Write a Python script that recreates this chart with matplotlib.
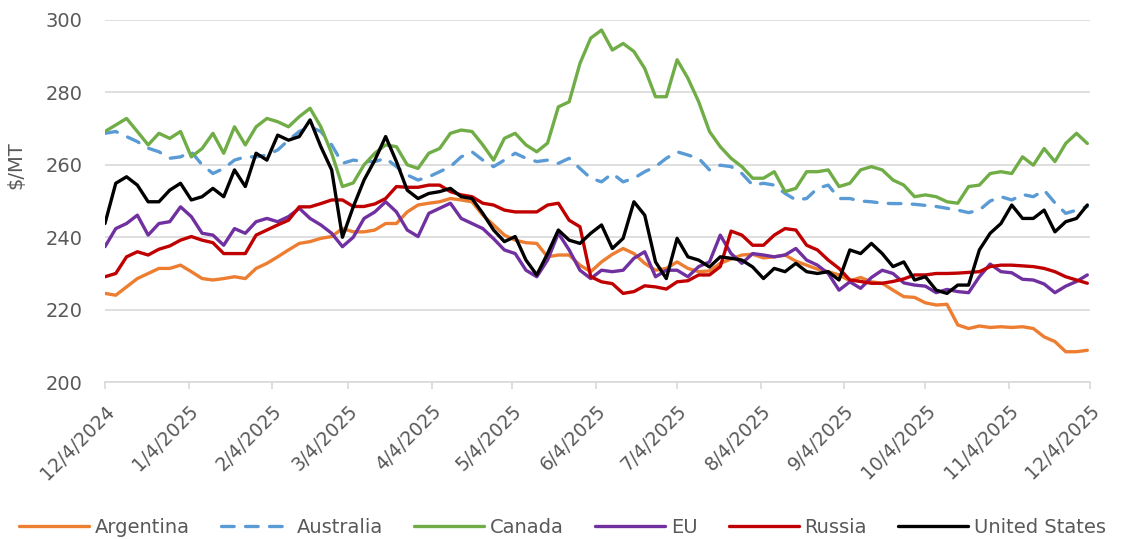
import numpy as np
import pandas as pd
import matplotlib
matplotlib.use("Agg")
import matplotlib.pyplot as plt

# sampled every 4 days starting 12/4/2024
start = pd.Timestamp("2024-12-04")
day_offsets = np.arange(0, 365, 4)

argentina = [
    224.5, 224.0, 226.3, 228.6, 230.0, 231.4, 231.4, 232.3, 230.5, 228.6, 228.2, 228.6,
    229.1, 228.6, 231.4, 232.8, 234.6, 236.5, 238.3, 238.8, 239.7, 240.2, 242.4,
    241.5, 241.5, 242.0, 243.8, 243.8, 247.0, 248.9, 249.4, 249.8, 250.7, 250.3, 249.8,
    246.1, 243.4, 240.6, 239.2, 238.5, 238.3, 234.6, 235.1, 235.1, 232.3, 230.5,
    233.2, 235.3, 236.9, 235.5, 232.8, 230.9, 231.4, 233.2, 231.4, 230.5, 230.7, 232.8,
    234.0, 235.1, 235.3, 234.3, 234.6, 235.1, 233.4, 232.3, 231.2, 230.5, 229.6,
    228.0, 228.9, 227.7, 227.3, 225.4, 223.6, 223.4, 221.9, 221.3, 221.5, 215.8, 214.8,
    215.5, 215.1, 215.3, 215.1, 215.3, 214.8, 212.5, 211.2, 208.4, 208.4, 208.8,
]
australia = [
    268.7, 269.2, 267.8, 266.4, 264.6, 263.6, 261.8, 262.2, 263.6, 260.0, 257.6, 259.0,
    261.3, 262.2, 262.2, 262.7, 264.1, 266.8, 269.2, 270.5, 269.2, 265.5, 260.4,
    261.3, 260.9, 260.9, 261.8, 259.5, 257.2, 255.8, 256.7, 258.1, 259.5, 262.2, 263.6,
    261.3, 259.5, 261.3, 263.2, 261.8, 260.9, 261.3, 260.4, 261.8, 259.0, 256.3,
    255.3, 257.6, 255.3, 256.3, 258.1, 259.5, 261.8, 263.6, 262.7, 261.8, 258.6, 259.9,
    259.5, 257.6, 254.4, 254.9, 254.4, 252.1, 250.3, 250.7, 253.5, 254.4, 250.7,
    250.7, 250.0, 249.8, 249.4, 249.3, 249.3, 249.1, 248.8, 248.5, 248.0, 247.5, 246.8,
    247.5, 250.0, 251.2, 250.3, 251.8, 251.2, 253.0, 249.5, 246.6, 247.5, 248.5,
]
canada = [
    269.2, 271.0, 272.8, 269.2, 265.5, 268.7, 267.3, 269.2, 262.2, 264.5, 268.7, 263.2,
    270.5, 265.5, 270.5, 272.8, 271.9, 270.5, 273.3, 275.6, 270.5, 263.2, 254.0,
    255.0, 260.0, 263.2, 265.5, 265.0, 260.0, 259.0, 263.2, 264.5, 268.7, 269.6, 269.2,
    265.5, 261.3, 267.3, 268.7, 265.5, 263.6, 266.0, 276.0, 277.4, 288.0, 295.0,
    297.2, 291.7, 293.5, 291.3, 286.6, 278.8, 278.8, 289.0, 283.9, 277.4, 269.2, 265.0,
    261.8, 259.5, 256.3, 256.3, 258.1, 252.6, 253.5, 258.1, 258.1, 258.6, 254.0,
    254.9, 258.6, 259.5, 258.6, 255.8, 254.4, 251.2, 251.7, 251.2, 249.8, 249.4, 254.0,
    254.4, 257.6, 258.1, 257.6, 262.2, 259.9, 264.5, 260.9, 265.9, 268.7, 265.9,
]
eu = [
    237.4, 242.4, 243.8, 246.1, 240.6, 243.8, 244.3, 248.4, 245.7, 241.1, 240.6, 237.8,
    242.4, 241.1, 244.3, 245.2, 244.3, 245.7, 248.0, 245.2, 243.4, 241.1, 237.4,
    240.0, 245.2, 247.0, 249.8, 247.0, 242.0, 240.2, 246.6, 248.0, 249.4, 245.2, 243.8,
    242.4, 239.6, 236.5, 235.5, 230.9, 229.1, 233.7, 241.1, 236.5, 230.9, 228.6,
    230.9, 230.5, 230.9, 234.2, 236.0, 229.1, 230.9, 230.9, 229.1, 231.9, 233.2, 240.6,
    235.5, 232.8, 235.5, 235.1, 234.6, 235.1, 236.9, 233.7, 232.3, 230.0, 225.4,
    227.7, 225.9, 228.9, 230.9, 230.0, 227.4, 226.8, 226.5, 224.7, 225.6, 225.0, 224.7,
    229.1, 232.6, 230.5, 230.2, 228.4, 228.2, 227.1, 224.7, 226.5, 227.8, 229.6,
]
russia = [
    229.1, 230.0, 234.6, 236.0, 235.1, 236.7, 237.6, 239.2, 240.2, 239.2, 238.5, 235.5,
    235.5, 235.5, 240.6, 242.0, 243.4, 244.7, 248.4, 248.4, 249.3, 250.3, 250.3,
    248.5, 248.5, 249.2, 250.7, 254.0, 253.8, 253.8, 254.4, 254.4, 252.6, 251.7, 251.2,
    249.4, 248.9, 247.5, 247.0, 247.0, 247.0, 248.9, 249.4, 244.7, 242.9, 229.1,
    227.7, 227.2, 224.5, 225.0, 226.6, 226.3, 225.7, 227.7, 228.0, 229.6, 229.6, 231.9,
    241.7, 240.6, 237.8, 237.8, 240.6, 242.4, 242.0, 237.8, 236.5, 233.7, 231.4,
    228.2, 227.8, 227.3, 227.3, 227.8, 228.5, 229.6, 229.6, 230.0, 230.0, 230.1, 230.3,
    230.5, 231.9, 232.3, 232.3, 232.1, 231.9, 231.4, 230.5, 229.1, 228.2, 227.3,
]
united_states = [
    243.8, 254.9, 256.7, 254.4, 249.8, 249.8, 253.0, 254.9, 250.3, 251.2, 253.5, 251.2,
    258.6, 254.0, 263.2, 261.3, 268.2, 266.8, 267.8, 272.4, 265.0, 258.6, 240.0,
    248.4, 255.8, 261.3, 267.8, 260.9, 253.0, 250.7, 252.1, 252.6, 253.5, 251.2, 250.7,
    246.6, 242.0, 238.8, 240.2, 233.7, 229.6, 235.5, 242.0, 239.2, 238.3, 241.1,
    243.4, 236.9, 239.7, 249.8, 246.1, 233.2, 228.6, 239.7, 234.6, 233.7, 231.8, 234.6,
    234.2, 233.7, 231.8, 228.6, 231.4, 230.5, 232.8, 230.5, 230.0, 230.5, 228.2,
    236.5, 235.5, 238.3, 235.5, 231.9, 233.2, 228.2, 229.1, 225.4, 224.5, 226.8, 226.8,
    236.5, 241.1, 243.8, 248.9, 245.2, 245.2, 247.5, 241.5, 244.3, 245.2, 248.9,
]

series_names = ["Argentina", "Australia", "Canada", "EU", "Russia", "United States"]
series_values = [argentina, australia, canada, eu, russia, united_states]
colors = ["#ED7D31", "#5B9BD5", "#70AD47", "#7030A0", "#C00000", "#000000"]

y_ticks = [200, 220, 240, 260, 280, 300]

dates = start + pd.to_timedelta(day_offsets, unit="D")
tick_dates = pd.date_range("2024-12-04", "2025-12-04", freq=pd.DateOffset(months=1))
tick_labels = [f"{d.month}/{d.day}/{d.year}" for d in tick_dates]

plt.rcParams["font.family"] = ["DejaVu Sans"]
text_color = "#595959"
grid_color = "#d9d9d9"

fig = plt.figure(figsize=(11.25, 5.39), dpi=100)
ax = fig.add_axes([0.0933, 0.291, 0.8756, 0.672])

for name, vals, c in zip(series_names, series_values, colors):
    if name == "Australia":
        ax.plot(dates, vals, color=c, lw=2.4, linestyle=(0, (3.8, 3.4)),
                dash_capstyle="round", label=name)
    else:
        ax.plot(dates, vals, color=c, lw=2.4, solid_capstyle="round", label=name)

ax.set_ylim(200, 300)
ax.set_yticks(y_ticks)
ax.set_xlim(tick_dates[0], tick_dates[-1])
ax.set_xticks(tick_dates)
ax.set_xticklabels(tick_labels, rotation=45, ha="right", rotation_mode="anchor")

ax.grid(axis="y", color=grid_color, lw=1.2)
ax.set_axisbelow(True)
for s in ["top", "right", "left"]:
    ax.spines[s].set_visible(False)
ax.spines["bottom"].set_color(grid_color)
ax.spines["bottom"].set_linewidth(1.2)

ax.tick_params(axis="y", length=0, pad=16, labelsize=14, labelcolor=text_color)
ax.tick_params(axis="x", length=5, width=1.2, color=grid_color, pad=9,
               labelsize=13.5, labelcolor=text_color)

ax.set_ylabel("$/MT", fontsize=14, color=text_color)
ax.yaxis.set_label_coords(-0.081, 0.6)

fig.legend(loc="lower center", bbox_to_anchor=(0.5, -0.011), ncol=6, frameon=False,
           fontsize=14, handlelength=3.6, handletextpad=0.3, columnspacing=1.6,
           borderaxespad=0, labelcolor=text_color)

fig.savefig("out.png", dpi=100)
